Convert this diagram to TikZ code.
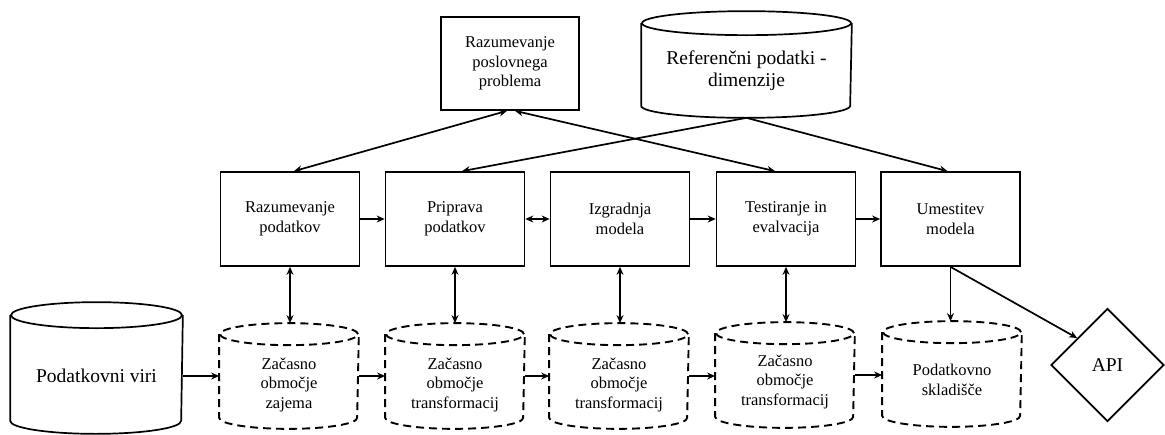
\documentclass[tikz,border=0pt]{standalone}
\usepackage{fontspec}
\setmainfont{Liberation Serif}
\usetikzlibrary{arrows.meta,calc,shapes.geometric}
\newcommand\dgsmall{\fontsize{16.5}{19.5}\selectfont}
\newcommand\dglarge{\fontsize{19.5}{22}\selectfont}
% cylinder outline over a named rectangular area: #1 name, #2 x radius, #3 y radius, #4 style
\newcommand\dgcyl[4]{%
  \draw[#4] ($(#1.north)+(0,-#3)$) ellipse [x radius=#2, y radius=#3];
  \draw[#4] ($(#1.north west)+(0,-#3)$) -- ($(#1.south west)+(0,#3)$)
     arc [start angle=180, end angle=360, x radius=#2, y radius=#3]
     -- ($(#1.north east)+(0,-#3)$);
}
\begin{document}
\begin{tikzpicture}[x=1pt,y=1pt,
  line width=1.7pt,
  >={Stealth[length=8pt,width=7pt]},
  stepbox/.style={draw, rectangle, minimum width=139pt, minimum height=94pt,
    inner sep=0pt, align=center, font=\dgsmall},
  cylarea/.style={rectangle, inner sep=0pt},
  cyltext/.style={align=center, inner sep=0pt},
  solidcyl/.style={line width=1.7pt},
  dashcyl/.style={line width=1.9pt, dash pattern=on 8pt off 5pt},
]
\useasboundingbox (0,0) rectangle (1165,-434);

% top row
\node[stepbox, minimum width=138pt, minimum height=93pt] (problem) at (510,-63.5)
  {Razumevanje\\poslovnega\\problema};
\node[cylarea, minimum width=209pt, minimum height=105pt] (ref) at (746.5,-64.5) {};
\dgcyl{ref}{104.5}{12}{solidcyl}
\node[cyltext, font=\dglarge] (reft) at (746.5,-71) {Referenčni podatki -\\dimenzije};

% process steps
\node[stepbox] (m1) at (290,-219) {Razumevanje\\podatkov};
\node[stepbox] (m2) at (455,-219) {Priprava\\podatkov};
\node[stepbox] (m3) at (620,-219) {Izgradnja\\modela};
\node[stepbox] (m4) at (786,-219) {Testiranje in\\evalvacija};
\node[stepbox] (m5) at (950.5,-219) {Umestitev\\modela};

% data stores
\node[cylarea, minimum width=171pt, minimum height=130pt] (viri) at (96.5,-368) {};
\dgcyl{viri}{85.5}{13}{solidcyl}
\node[cyltext, font=\dglarge] (virit) at (96.5,-376) {Podatkovni viri};

\node[cylarea, minimum width=138pt, minimum height=104pt] (c1) at (289,-376) {};
\node[cylarea, minimum width=138pt, minimum height=104pt] (c2) at (455,-376) {};
\node[cylarea, minimum width=138pt, minimum height=104pt] (c3) at (619,-376) {};
\node[cylarea, minimum width=138pt, minimum height=104pt] (c4) at (785,-375) {};
\node[cylarea, minimum width=138pt, minimum height=104pt] (c5) at (952,-374) {};
\foreach \c in {c1,c2,c3,c4,c5} {\dgcyl{\c}{69}{11}{dashcyl}}
\node[cyltext, font=\dgsmall] (c1t) at (289,-385) {Začasno\\območje\\zajema};
\node[cyltext, font=\dgsmall] (c2t) at (455,-385) {Začasno\\območje\\transformacij};
\node[cyltext, font=\dgsmall] (c3t) at (619,-385) {Začasno\\območje\\transformacij};
\node[cyltext, font=\dgsmall] (c4t) at (785,-382) {Začasno\\območje\\transformacij};
\node[cyltext, font=\dgsmall] (c5t) at (952,-380) {Podatkovno\\skladišče};

\node[draw, diamond, minimum width=113pt, minimum height=113pt, inner sep=0pt,
  font=\dglarge] (api) at (1107.5,-365) {API};

% connectors: top
\draw[<->] ($(m1.north)+(4,0)$) -- ($(problem.south)+(-3,0)$);
\draw[<->] ($(m4.north)+(-11,0)$) -- ($(problem.south)+(5,0)$);
\draw[->] (ref.south) -- ($(m2.north)+(7,0)$);
\draw[->] (ref.south) -- ($(m5.north)+(-3,0)$);

% connectors: process chain
\draw[->] (m1) -- (m2);
\draw[<->] (m2) -- (m3);
\draw[->] (m3) -- (m4);
\draw[->] (m4) -- (m5);

% connectors: steps to stores
\foreach \i in {1,2,3,4} {\draw[<->] (m\i.south) -- (m\i.south |- c\i.north);}
\draw[->] (m5.south) -- (m5.south |- c5.north);
\draw[->] (m5.south) -- ($(api.north)!0.53!(api.west)$);

% connectors: store chain
\draw[->] (c1.west -| viri.east) -- (c1.west);
\draw[->] (c1) -- (c2);
\draw[->] (c2) -- (c3);
\draw[->] (c3.east) -- (c3.east -| c4.west);
\draw[->] (c4.east) -- (c4.east -| c5.west);
\end{tikzpicture}
\end{document}
